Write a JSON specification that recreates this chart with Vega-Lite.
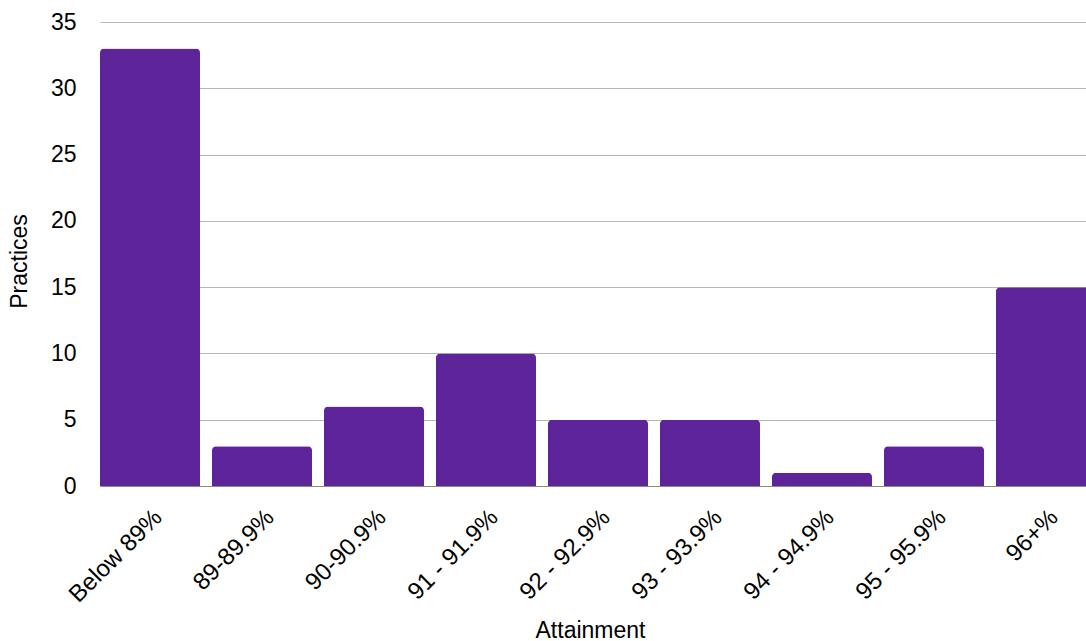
{
  "$schema": "https://vega.github.io/schema/vega-lite/v6.json",
  "autosize": {"type": "none"},
  "width": 996,
  "height": 464,
  "padding": {"left": 100, "top": 22, "right": 0, "bottom": 155},
  "background": "white",
  "config": {
    "view": {"stroke": null},
    "font": "Liberation Sans"
  },
  "data": {
    "values": [
      {"Attainment": "Below 89%", "Practices": 33},
      {"Attainment": "89-89.9%", "Practices": 3},
      {"Attainment": "90-90.9%", "Practices": 6},
      {"Attainment": "91 - 91.9%", "Practices": 10},
      {"Attainment": "92 - 92.9%", "Practices": 5},
      {"Attainment": "93 - 93.9%", "Practices": 5},
      {"Attainment": "94 - 94.9%", "Practices": 1},
      {"Attainment": "95 - 95.9%", "Practices": 3},
      {"Attainment": "96+%", "Practices": 15}
    ]
  },
  "mark": {"type": "bar", "color": "#5E259B", "cornerRadiusTopLeft": 4, "cornerRadiusTopRight": 4},
  "encoding": {
    "x": {
      "field": "Attainment",
      "type": "nominal",
      "sort": null,
      "scale": {"paddingInner": 0.107, "paddingOuter": 0},
      "axis": {
        "title": "Attainment",
        "titleFontSize": 23,
        "titleFontWeight": "normal",
        "titleColor": "#000000",
        "titleBaseline": "alphabetic",
        "titleX": 490,
        "titleY": 151,
        "labelAngle": -45,
        "labelFontSize": 24,
        "labelColor": "#000000",
        "labelPadding": 19,
        "ticks": false,
        "domain": true,
        "domainColor": "#888888",
        "grid": false
      }
    },
    "y": {
      "field": "Practices",
      "type": "quantitative",
      "scale": {"domain": [0, 35]},
      "axis": {
        "title": "Practices",
        "titleFontSize": 23,
        "titleFontWeight": "normal",
        "titleColor": "#000000",
        "titleX": -74,
        "titleY": 239,
        "titleBaseline": "alphabetic",
        "values": [0, 5, 10, 15, 20, 25, 30, 35],
        "labelFontSize": 23,
        "labelColor": "#000000",
        "labelPadding": 24,
        "ticks": false,
        "domain": false,
        "grid": true,
        "gridColor": "#b7b7b7",
        "gridWidth": 1
      }
    }
  }
}
